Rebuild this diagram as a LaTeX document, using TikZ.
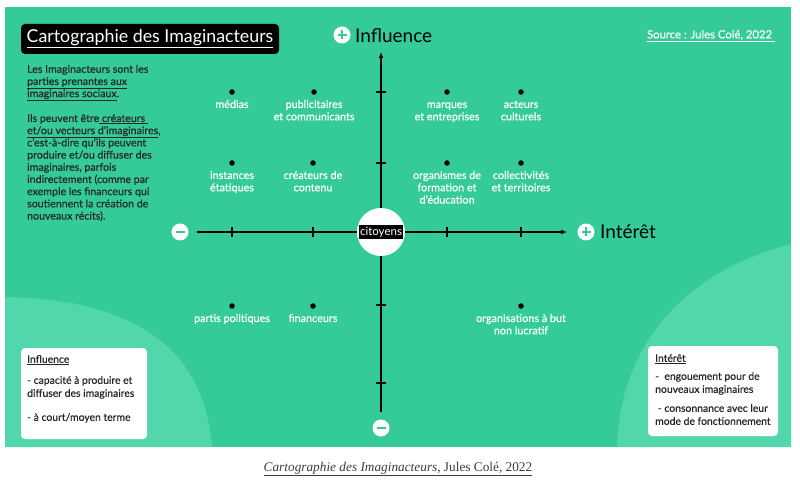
\documentclass[tikz,border=0pt]{standalone}
\usepackage{fontspec}
\setmainfont{Lato}[FakeBold=0.45]
\newfontfamily\plainfont{Lato}
\newfontfamily\serifcap{Liberation Serif}
\usetikzlibrary{arrows.meta}
\definecolor{bggreen}{RGB}{52,203,152}
\definecolor{blobgreen}{RGB}{82,214,172}
\definecolor{capgray}{RGB}{60,60,60}
\tikzset{
  axis/.style={line width=1.5pt, black},
  tickmark/.style={line width=1.5pt, black},
  dotnode/.style={circle, fill=black, inner sep=0pt, minimum size=5.5pt},
  lbl/.style={text=white, align=center, inner sep=0pt, anchor=north, yshift=-4.2pt, font=\fontsize{10.8}{12.3}\selectfont},
  signc/.style={circle, fill=white, inner sep=0pt, minimum size=17pt},
  plusc/.style={signc, path picture={
     \draw[bggreen, line width=2.2pt] ([xshift=-4.5pt]path picture bounding box.center) -- ([xshift=4.5pt]path picture bounding box.center);
     \draw[bggreen, line width=2.2pt] ([yshift=-4.5pt]path picture bounding box.center) -- ([yshift=4.5pt]path picture bounding box.center);}},
  minusc/.style={signc, path picture={
     \draw[bggreen, line width=2.2pt] ([xshift=-4.5pt]path picture bounding box.center) -- ([xshift=4.5pt]path picture bounding box.center);}},
  axislabel/.style={font=\plainfont\fontsize{19}{22}\selectfont, text=black, inner sep=0pt, anchor=base west},
  legendbox/.style={fill=white, rounded corners=4pt, inner sep=0pt},
  legendtext/.style={align=left, anchor=north west, inner sep=0pt, text=black!85, font=\fontsize{10.4}{13}\selectfont},
}
\begin{document}
\begin{tikzpicture}[x=1pt,y=-1pt]
\useasboundingbox (0,0) rectangle (800,486);
\fill[white] (0,0) rectangle (800,486);
% panel
\fill[bggreen] (5,7) rectangle (791,447);
\fill[blobgreen] (5,297) .. controls (150,300) and (205,360) .. (212,447) -- (5,447) -- cycle;
\fill[blobgreen] (791,244) .. controls (690,270) and (620,340) .. (617,447) -- (791,447) -- cycle;

% title
\node[fill=black, rounded corners=4pt, minimum width=258pt, minimum height=30pt, inner sep=0pt,
      text=white, font=\plainfont\fontsize{17.8}{20}\selectfont] (title) at (150,39) {\underline{Cartographie des Imaginacteurs}};

% source
\node[text=white, inner sep=0pt, font=\fontsize{11.3}{13}\selectfont] (source) at (711,36) {\underline{Source : Jules Colé, 2022\ }};

% intro text
\node[anchor=north west, align=left, inner sep=0pt, text=black!85, font=\fontsize{10.6}{12.2}\selectfont] (intro) at (27,64)
 {\strut Les Imaginacteurs sont les\\
  \underline{parties prenantes aux}\\
  \underline{imaginaires sociaux}.\\[12.6pt]
  Ils peuvent être\underline{\ créateurs\ }\\
  \underline{et/ou vecteurs d’imaginaires},\\
  c’est-à-dire qu’ils peuvent\\
  produire et/ou diffuser des\\
  imaginaires, parfois\\
  indirectement (comme par\\
  exemple les financeurs qui\\
  soutiennent la création de\\
  nouveaux récits).};

% axes
\coordinate (hstart) at (197,232);
\coordinate (hend) at (567,232);
\coordinate (vstart) at (381,412);
\coordinate (vend) at (381,52);
\draw[axis, -{Latex[length=6pt,width=5pt]}] (hstart) -- (hend);
\draw[axis, -{Latex[length=6pt,width=5pt]}] (vstart) -- (vend);
\foreach \x in {232,313,447,521} \draw[tickmark] (\x,227) -- (\x,237);
\foreach \y in {92,163,305,383} \draw[tickmark] (376,\y) -- (386,\y);

% signs and axis labels
\node[plusc] (pInf) at (342,35) {};
\node[axislabel] (tInf) at (355,42.5) {Influence};
\node[plusc] (pInt) at (586,232) {};
\node[axislabel] (tInt) at (600,238.5) {Intérêt};
\node[minusc] (mLeft) at (180,232) {};
\node[minusc] (mBottom) at (381,428) {};

% centre
\node[circle, fill=white, minimum size=48pt, inner sep=0pt] (citc) at (381,232) {};
\node[fill=black, text=white, inner xsep=1.5pt, inner ysep=1pt, minimum height=14pt,
      font=\plainfont\fontsize{11.5}{13}\selectfont] (cit) at (381,232) {citoyens};

% actors
\node[dotnode] (d11) at (232,92) {};
\node[lbl] (l11) at (d11.south) {\strut médias};
\node[dotnode] (d12) at (314,92) {};
\node[lbl] (l12) at (d12.south) {\strut publicitaires\\ et communicants};
\node[dotnode] (d13) at (447,92) {};
\node[lbl] (l13) at (d13.south) {\strut marques\\ et entreprises};
\node[dotnode] (d14) at (521,92) {};
\node[lbl] (l14) at (d14.south) {\strut acteurs\\ culturels};

\node[dotnode] (d21) at (232,163) {};
\node[lbl] (l21) at (d21.south) {\strut instances\\ étatiques};
\node[dotnode] (d22) at (313,163) {};
\node[lbl] (l22) at (d22.south) {\strut créateurs de\\ contenu};
\node[dotnode] (d23) at (447,163) {};
\node[lbl] (l23) at (d23.south) {\strut organismes de\\ formation et\\ d'éducation};
\node[dotnode] (d24) at (521,163) {};
\node[lbl] (l24) at (d24.south) {\strut collectivités\\ et territoires};

\node[dotnode] (d31) at (232,306) {};
\node[lbl] (l31) at (d31.south) {\strut partis politiques};
\node[dotnode] (d32) at (313,306) {};
\node[lbl] (l32) at (d32.south) {\strut financeurs};
\node[dotnode] (d34) at (521,306) {};
\node[lbl] (l34) at (d34.south) {\strut organisations à but\\ non lucratif};

% legends
\node[legendbox, minimum width=126pt, minimum height=91pt] (legI) at (84,393.5) {};
\node[legendtext] (legItext) at (27,353.5)
 {\strut\underline{Influence}\\[8pt]
  - capacité à produire et\\
  diffuser des imaginaires\\[11pt]
  - à court/moyen terme};
\node[legendbox, minimum width=130pt, minimum height=90pt] (legR) at (713,391) {};
\node[legendtext] (legRtext) at (655,352.5)
 {\strut\underline{Intérêt}\\[5pt]
  -\ \ engouement pour de\\
  nouveaux imaginaires\\[6pt]
  \ - consonnance avec leur\\
  mode de fonctionnement};

% caption
\node[text=capgray, inner sep=0pt, font=\serifcap\fontsize{13.3}{15}\selectfont] (caption) at (398,469)
 {\underline{\textit{Cartographie des Imaginacteurs},\ Jules Colé, 2022}};
\end{tikzpicture}
\end{document}
